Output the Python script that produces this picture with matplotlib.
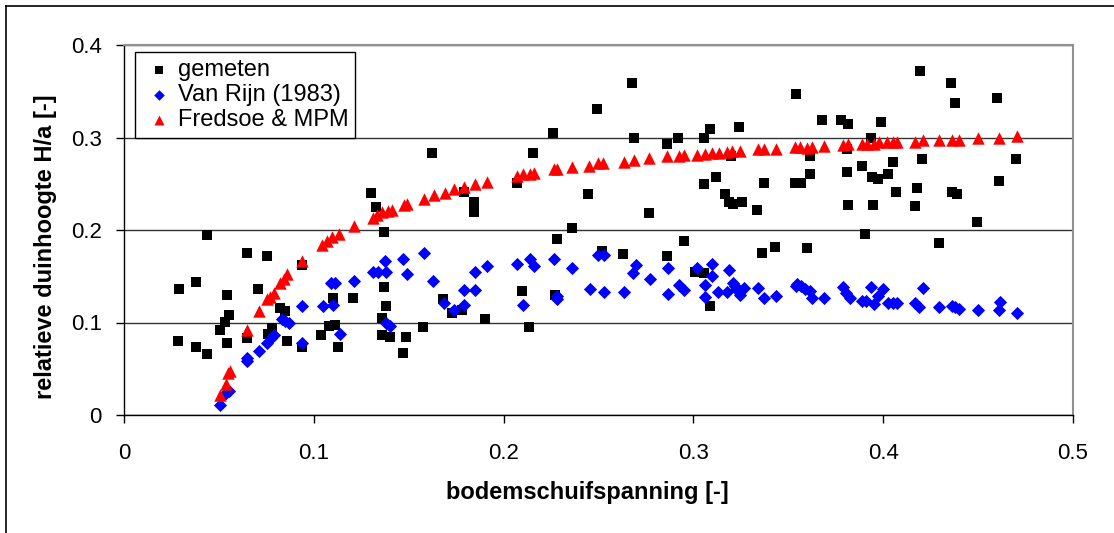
import matplotlib.pyplot as plt
from matplotlib.lines import Line2D

plt.rcParams['font.family'] = ['Liberation Sans', 'DejaVu Sans']

# gemeten (measured)
gem_x = [0.0283, 0.029, 0.0377, 0.0377, 0.0437, 0.0437, 0.0504, 0.053, 0.0542, 0.0542,
         0.0551, 0.0647, 0.0647, 0.0705, 0.0753, 0.0761, 0.0782, 0.0823, 0.0846, 0.0858,
         0.0937, 0.0937, 0.104, 0.108, 0.111, 0.110, 0.113, 0.1207, 0.130, 0.133,
         0.137, 0.137, 0.1383, 0.136, 0.136, 0.140, 0.1468, 0.1488, 0.1574, 0.1625,
         0.168, 0.173, 0.178, 0.179, 0.1844, 0.1844, 0.190, 0.207, 0.2096, 0.2135,
         0.2154, 0.226, 0.227, 0.228, 0.2358, 0.2446, 0.249, 0.252, 0.2628, 0.2677,
         0.2686, 0.2765, 0.286, 0.286, 0.292, 0.295, 0.301, 0.3054, 0.3054, 0.3054,
         0.309, 0.309, 0.312, 0.3168, 0.3186, 0.320, 0.321, 0.324, 0.3256, 0.3335,
         0.336, 0.337, 0.343, 0.3535, 0.354, 0.3567, 0.3596, 0.3616, 0.3616, 0.368,
         0.378, 0.381, 0.381, 0.3817, 0.3817, 0.3888, 0.3905, 0.3935, 0.394, 0.3944,
         0.397, 0.399, 0.4023, 0.405, 0.4068, 0.4165, 0.4177, 0.4195, 0.4205, 0.4293,
         0.4358, 0.436, 0.4379, 0.4388, 0.4495, 0.460, 0.4609, 0.470]
gem_y = [0.080, 0.136, 0.144, 0.074, 0.195, 0.066, 0.092, 0.101, 0.130, 0.078,
         0.108, 0.175, 0.083, 0.136, 0.172, 0.088, 0.094, 0.116, 0.112, 0.080,
         0.162, 0.074, 0.087, 0.096, 0.097, 0.126, 0.074, 0.127, 0.240, 0.225,
         0.198, 0.138, 0.118, 0.105, 0.087, 0.084, 0.067, 0.084, 0.095, 0.283,
         0.125, 0.110, 0.114, 0.241, 0.230, 0.219, 0.104, 0.251, 0.134, 0.095,
         0.283, 0.305, 0.130, 0.190, 0.202, 0.239, 0.331, 0.177, 0.174, 0.359,
         0.299, 0.218, 0.293, 0.172, 0.299, 0.188, 0.155, 0.154, 0.299, 0.250,
         0.309, 0.118, 0.257, 0.239, 0.230, 0.280, 0.228, 0.311, 0.230, 0.222,
         0.175, 0.251, 0.182, 0.251, 0.347, 0.251, 0.180, 0.280, 0.261, 0.319,
         0.319, 0.288, 0.263, 0.315, 0.227, 0.269, 0.196, 0.300, 0.257, 0.227,
         0.255, 0.317, 0.261, 0.273, 0.241, 0.226, 0.245, 0.372, 0.277, 0.186,
         0.359, 0.241, 0.337, 0.239, 0.209, 0.343, 0.253, 0.277]

# Van Rijn (1983)
vr_x = [0.0507, 0.053, 0.0554, 0.065, 0.065, 0.0709, 0.0756, 0.0774, 0.079, 0.0832,
        0.085, 0.0867, 0.094, 0.094, 0.1047, 0.109, 0.111, 0.110, 0.1137, 0.121,
        0.131, 0.134, 0.1375, 0.138, 0.138, 0.140, 0.147, 0.149, 0.158, 0.163,
        0.1686, 0.174, 0.179, 0.179, 0.185, 0.185, 0.191, 0.207, 0.210, 0.214,
        0.216, 0.2267, 0.228, 0.228, 0.236, 0.2455, 0.2497, 0.2528, 0.2528, 0.2633,
        0.268, 0.2695, 0.277, 0.2865, 0.2865, 0.2923, 0.2953, 0.302, 0.306, 0.306,
        0.3098, 0.3098, 0.3128, 0.3177, 0.3186, 0.321, 0.322, 0.3225, 0.3247, 0.3265,
        0.334, 0.337, 0.3437, 0.354, 0.3546, 0.3567, 0.359, 0.3616, 0.3624, 0.3686,
        0.379, 0.3805, 0.3826, 0.3888, 0.391, 0.3935, 0.395, 0.397, 0.3998, 0.4023,
        0.4054, 0.4075, 0.417, 0.4186, 0.4209, 0.4296, 0.436, 0.4379, 0.4397, 0.450,
        0.4609, 0.4616, 0.4704]
vr_y = [0.011, 0.023, 0.026, 0.058, 0.062, 0.069, 0.078, 0.083, 0.087, 0.104,
        0.102, 0.100, 0.078, 0.1175, 0.1175, 0.143, 0.143, 0.119, 0.0875, 0.145,
        0.155, 0.155, 0.167, 0.155, 0.0995, 0.096, 0.169, 0.1525, 0.175, 0.145,
        0.121, 0.113, 0.119, 0.135, 0.135, 0.155, 0.161, 0.163, 0.119, 0.169,
        0.161, 0.169, 0.129, 0.125, 0.159, 0.136, 0.1725, 0.1725, 0.133, 0.133,
        0.154, 0.162, 0.147, 0.159, 0.131, 0.141, 0.135, 0.159, 0.141, 0.128,
        0.163, 0.150, 0.133, 0.133, 0.157, 0.143, 0.139, 0.136, 0.130, 0.137,
        0.137, 0.127, 0.129, 0.140, 0.142, 0.140, 0.136, 0.134, 0.127, 0.126,
        0.138, 0.132, 0.126, 0.123, 0.123, 0.138, 0.120, 0.129, 0.136, 0.121,
        0.121, 0.121, 0.121, 0.117, 0.137, 0.117, 0.118, 0.117, 0.115, 0.113,
        0.113, 0.122, 0.110]

# Fredsoe & MPM
fr_x = [0.0507, 0.054, 0.055, 0.0556, 0.065, 0.0709, 0.0756, 0.0768, 0.0788, 0.0823,
        0.0844, 0.0861, 0.094, 0.1042, 0.107, 0.1098, 0.1135, 0.121, 0.131, 0.1335,
        0.136, 0.139, 0.1414, 0.1475, 0.149, 0.158, 0.1633, 0.169, 0.174, 0.179,
        0.185, 0.191, 0.207, 0.2104, 0.214, 0.216, 0.2267, 0.228, 0.236, 0.245,
        0.2497, 0.2525, 0.2633, 0.2686, 0.2768, 0.286, 0.2923, 0.2953, 0.302, 0.306,
        0.3098, 0.3133, 0.3177, 0.3204, 0.3247, 0.334, 0.337, 0.3437, 0.3537, 0.3563,
        0.3598, 0.3624, 0.3686, 0.379, 0.3817, 0.3888, 0.3917, 0.3949, 0.398, 0.402,
        0.405, 0.4075, 0.4168, 0.4209, 0.4296, 0.436, 0.4397, 0.450, 0.4609, 0.4704]
fr_y = [0.022, 0.034, 0.045, 0.048, 0.092, 0.112, 0.125, 0.128, 0.132, 0.143,
        0.147, 0.152, 0.166, 0.184, 0.188, 0.192, 0.196, 0.204, 0.213, 0.216,
        0.219, 0.2205, 0.222, 0.2267, 0.228, 0.234, 0.238, 0.240, 0.244, 0.246,
        0.2495, 0.252, 0.2585, 0.260, 0.261, 0.262, 0.2657, 0.266, 0.268, 0.269,
        0.272, 0.272, 0.273, 0.2755, 0.2773, 0.2795, 0.280, 0.281, 0.2812, 0.2817,
        0.283, 0.283, 0.2838, 0.285, 0.285, 0.288, 0.288, 0.288, 0.290, 0.290,
        0.289, 0.290, 0.291, 0.2917, 0.2935, 0.2935, 0.2935, 0.2935, 0.2946, 0.2946,
        0.2953, 0.2946, 0.2953, 0.297, 0.297, 0.297, 0.297, 0.299, 0.300, 0.3018]

x_ticks = [0, 0.1, 0.2, 0.3, 0.4, 0.5]
x_labels = ['0', '0.1', '0.2', '0.3', '0.4', '0.5']
y_ticks = [0, 0.1, 0.2, 0.3, 0.4]
y_labels = ['0', '0.1', '0.2', '0.3', '0.4']

fig = plt.figure(figsize=(11.14, 5.33), dpi=100)
# outer chart frame (only left and top edges visible in the picture)
fig.add_artist(Line2D([6 / 1114, 6 / 1114], [0, 1 - 6 / 533], transform=fig.transFigure,
                      color='black', linewidth=1.2))
fig.add_artist(Line2D([6 / 1114, 1], [1 - 6 / 533, 1 - 6 / 533], transform=fig.transFigure,
                      color='black', linewidth=1.2))

ax = fig.add_axes([124 / 1114, 1 - 415 / 533, 949 / 1114, 370 / 533])

ax.scatter(gem_x, gem_y, marker='s', s=58, color='black', linewidths=0, label='gemeten', zorder=3)
ax.scatter(vr_x, vr_y, marker='D', s=45, color='#0000FF', linewidths=0, label='Van Rijn (1983)', zorder=4)
ax.scatter(fr_x, fr_y, marker='^', s=80, color='#FF0000', linewidths=0, label='Fredsoe & MPM', zorder=5)

ax.set_xlim(0, 0.5)
ax.set_ylim(0, 0.4)
ax.set_xticks(x_ticks)
ax.set_xticklabels(x_labels, fontsize=16)
ax.set_yticks(y_ticks)
ax.set_yticklabels(y_labels, fontsize=16)
ax.tick_params(axis='x', direction='out', length=6, width=1, color='black', pad=14)
ax.tick_params(axis='y', direction='out', length=6, width=1, color='black', pad=10)
ax.grid(axis='y', color='#333333', linewidth=1)
ax.set_axisbelow(True)

for side in ['top', 'right']:
    ax.spines[side].set_color('#909090')
    ax.spines[side].set_linewidth(1.5)
for side in ['left', 'bottom']:
    ax.spines[side].set_color('black')
    ax.spines[side].set_linewidth(1)

ax.set_xlabel('bodemschuifspanning [-]', fontsize=17, fontweight='bold')
ax.set_ylabel('relatieve duinhoogte H/a [-]', fontsize=17, fontweight='bold')
ax.xaxis.set_label_coords(0.488, -0.178)
ax.yaxis.set_label_coords(-0.071, 0.455)

leg = ax.legend(loc='upper left', bbox_to_anchor=(0.0116, 0.981), fontsize=17, frameon=True,
                fancybox=False, framealpha=1, edgecolor='black', borderpad=0.3,
                handletextpad=0.1, labelspacing=0.12, handlelength=1.4, borderaxespad=0,
                markerscale=0.8)
leg.get_frame().set_linewidth(1)

fig.savefig('out.png', dpi=100)
